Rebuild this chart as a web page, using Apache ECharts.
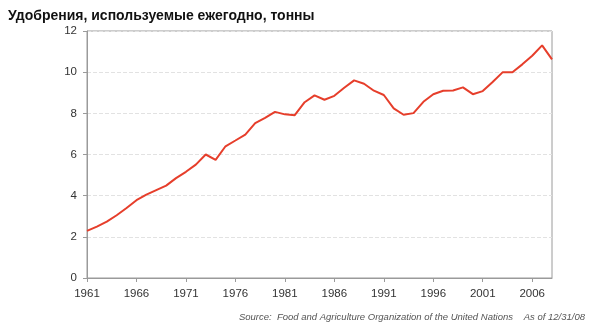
<!DOCTYPE html>
<html><head><meta charset="utf-8">
<script src="https://cdn.jsdelivr.net/npm/echarts@6/dist/echarts.min.js"></script>
<style>html,body{margin:0;padding:0;background:#fff}#c{width:590px;height:330px}</style>
</head><body><div id="c"></div>
<script>
const years = [];
for (let y = 1961; y <= 2008; y++) years.push(String(y));
const fertilizer = [2.29,2.50,2.74,3.05,3.40,3.78,4.05,4.27,4.49,4.85,
  5.16,5.51,6.00,5.74,6.40,6.68,6.97,7.52,7.78,8.07,
  7.95,7.91,8.54,8.87,8.66,8.85,9.24,9.60,9.44,9.10,
  8.89,8.24,7.93,8.01,8.56,8.93,9.10,9.11,9.26,8.93,
  9.08,9.52,9.99,10.00,10.38,10.80,11.30,10.62];
const yTicks = [0,2,4,6,8,10,12];
const titleText = 'Удобрения, используемые ежегодно, тонны';
const sourceText = 'Source:  Food and Agriculture Organization of the United Nations';
const dateText = 'As of 12/31/08';

const chart = echarts.init(document.getElementById('c'));
chart.setOption({
  animation: false,
  title: {text: titleText, left: 3, top: 4,
    textStyle: {fontFamily: 'Liberation Sans', fontWeight: 'bold', fontSize: 14, color: '#111'}},
  graphic: [
    {type: 'text', right: 5, top: 312,
      style: {text: dateText, font: 'italic 9.5px "Liberation Sans", Arial', fill: '#555'}},
    {type: 'text', right: 77, top: 312,
      style: {text: sourceText, font: 'italic 9.5px "Liberation Sans", Arial', fill: '#555'}}
  ],
  grid: {left: 87, right: 38, top: 31, bottom: 52, show: true, borderColor: '#9a9a9a', borderWidth: 1},
  xAxis: {type: 'category', data: years, boundaryGap: false,
    axisLine: {lineStyle: {color: '#9a9a9a'}},
    axisTick: {alignWithLabel: true, length: 4, lineStyle: {color: '#9a9a9a'},
      interval: (i) => i % 5 === 0},
    axisLabel: {interval: (i) => i % 5 === 0, color: '#333', fontSize: 11.5,
      fontFamily: 'Liberation Sans', margin: 10},
    splitLine: {show: false}},
  yAxis: {type: 'value', min: yTicks[0], max: yTicks[yTicks.length-1], interval: 2,
    axisLine: {show: true, lineStyle: {color: '#9a9a9a'}},
    axisTick: {show: true, length: 4, lineStyle: {color: '#9a9a9a'}},
    axisLabel: {color: '#333', fontSize: 11.5, fontFamily: 'Liberation Sans', margin: 10},
    splitLine: {lineStyle: {color: '#e2e2e2', type: 'dashed'}}},
  series: [{type: 'line', data: fertilizer, symbol: 'none',
    lineStyle: {color: '#e63e2b', width: 2}}]
});
</script></body></html>
